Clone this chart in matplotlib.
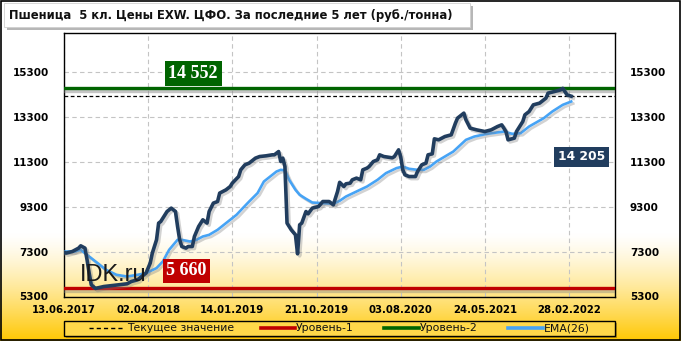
import numpy as np
import matplotlib
matplotlib.use("Agg")
import matplotlib.pyplot as plt
import matplotlib.patheffects as pe
from matplotlib.lines import Line2D
from matplotlib.patches import Rectangle, FancyBboxPatch

# ---------------- data ----------------
title = "Пшеница  5 кл. Цены EXW. ЦФО. За последние 5 лет (руб./тонна)"
tick_idx = [0, 40, 80, 120, 160, 200, 240]
tick_labels = ["13.06.2017", "02.04.2018", "14.01.2019", "21.10.2019",
               "03.08.2020", "24.05.2021", "28.02.2022"]
y_ticks = [5300, 7300, 9300, 11300, 13300, 15300]

price_idx = [0, 1, 4, 7, 8, 10, 11, 12, 13, 15, 19, 22, 26, 30, 32, 35, 39, 41, 42, 44,
             45, 46, 49, 51, 53, 54, 55, 56, 58, 59, 61, 62, 64, 66, 68, 69, 71, 73, 74, 77,
             79, 80, 83, 84, 86, 88, 91, 93, 96, 99, 100, 102, 103, 104, 105, 106, 108, 110, 111, 112,
             113, 115, 116, 118, 121, 123, 126, 128, 130, 131, 133, 134, 136, 137, 139, 141, 142, 144, 145, 147,
             149, 150, 152, 156, 157, 159, 160, 161, 162, 164, 167, 168, 170, 172, 173, 175, 176, 178, 181, 184,
             186, 187, 190, 191, 193, 196, 200, 203, 206, 208, 210, 211, 214, 215, 218, 219, 221, 223, 226, 229,
             230, 233, 236, 237, 239, 241]
price = [7270, 7229, 7300, 7451, 7553, 7451, 6931, 6340, 5820, 5660, 5744, 5776, 5820, 5864, 5967, 6042, 6340, 6784, 7229, 7820,
         8562, 8633, 9078, 9229, 9078, 8411, 7820, 7522, 7451, 7522, 7522, 7967, 8411, 8709, 8562, 9078, 9451, 9522, 9896, 10042,
         10189, 10340, 10633, 10931, 11153, 11229, 11451, 11522, 11553, 11598, 11598, 11744, 11300, 11451, 11078, 8562, 8264, 8042, 7198, 8487,
         8562, 9078, 8976, 9229, 9300, 9522, 9522, 9376, 9967, 10376, 10189, 10309, 10340, 10487, 10562, 10487, 10931, 11007, 11078, 11300,
         11376, 11598, 11522, 11464, 11522, 11820, 11507, 10931, 10709, 10633, 10633, 10856, 11153, 11229, 11598, 11642, 12309, 12264, 12411, 12487,
         13007, 13229, 13451, 13153, 12784, 12709, 12633, 12709, 12856, 12931, 12633, 12264, 12340, 12633, 13078, 13376, 13522, 13820, 13896, 14118,
         14340, 14411, 14487, 14552, 14264, 14205]

ema_idx = [0, 5, 8, 12, 16, 20, 25, 30, 35, 39, 44, 47, 50, 54, 56, 60, 63, 66, 69, 73,
           76, 79, 82, 85, 88, 92, 95, 98, 101, 103, 105, 107, 110, 112, 115, 118, 123, 128, 131, 134,
           139, 144, 149, 153, 158, 161, 164, 168, 171, 174, 177, 185, 191, 195, 201, 209, 213, 217, 221, 228,
           232, 237, 241]
ema = [7300, 7300, 7376, 7078, 6784, 6487, 6264, 6189, 6264, 6340, 6562, 6856, 7376, 7820, 7820, 7744, 7820, 7967, 8042, 8264,
       8487, 8709, 8931, 9229, 9522, 9896, 10411, 10633, 10856, 10931, 10909, 10487, 10042, 9820, 9642, 9478, 9449, 9420, 9553, 9744,
       9967, 10189, 10487, 10784, 11007, 11078, 10976, 10931, 10931, 11078, 11300, 11744, 12264, 12411, 12531, 12633, 12531, 12562, 12856, 13229,
       13522, 13820, 13967]

current_value = 14205
level_1 = 5660
level_2 = 14552
legend_labels = ["Текущее значение", "Уровень-1", "Уровень-2", "EMA(26)"]
watermark = "IDK.ru"

# ---------------- styles ----------------
W, H = 681, 341
C_MAIN = "#213d5e"
C_EMA = "#46a3f5"
C_RED = "#c00000"
C_GREEN = "#006400"
C_GRID = "#c4c4c4"

plt.rcParams['font.family'] = ['DejaVu Sans']

fig = plt.figure(figsize=(W / 100, H / 100), dpi=100)

# background gradient
bg = fig.add_axes([0, 0, 1, 1], zorder=0)
bg.set_axis_off()
ypix = np.arange(H)
t = np.clip((ypix - 232) / (H - 232), 0, 1) ** 1.35
top = np.array([1.0, 1.0, 1.0])
bot = np.array([1.0, 0.78, 0.0])
grad = top[None, :] * (1 - t[:, None]) + bot[None, :] * t[:, None]
img = np.repeat(grad[:, None, :], 4, axis=1)
bg.imshow(img, aspect='auto', extent=[0, 1, 0, 1], origin='upper')
bg.set_xlim(0, 1)
bg.set_ylim(0, 1)
bg.add_patch(Rectangle((0.0008, 0.0015), 0.998, 0.997, fill=False, ec='black', lw=1.2,
                       transform=bg.transAxes))

# main axes
L, R, T, B = 63.9, 614.7, 33.3, 296.5
ax = fig.add_axes([L / W, 1 - B / H, (R - L) / W, (B - T) / H], zorder=1)
ax.set_facecolor('none')
x_max = (R - L) / 2.105
ax.set_xlim(0, x_max)
ax.set_ylim(5300, 17000)

for s in ax.spines.values():
    s.set_color('black')
    s.set_linewidth(1.0)

ax.set_xticks(tick_idx)
ax.set_xticklabels(tick_labels, fontsize=7.3, fontweight='bold')
ax.set_yticks(y_ticks)
ax.set_yticklabels([str(v) for v in y_ticks], fontsize=7.5, fontweight='bold')
ax.tick_params(axis='both', length=0, pad=11)
ax.tick_params(axis='x', pad=6)
ax.tick_params(axis='y', right=True, labelright=True, left=False, labelleft=True)
ax.grid(True, color=C_GRID, linestyle=(0, (4, 3)), linewidth=0.8)
ax.set_axisbelow(True)

shadow = [pe.SimpleLineShadow(offset=(1.5, -1.5), shadow_color='#808080', alpha=0.35), pe.Normal()]

ax.axhline(level_1, color=C_RED, lw=2.4, path_effects=[pe.SimpleLineShadow(offset=(0, -2), shadow_color='gray', alpha=0.4), pe.Normal()], zorder=3)
ax.axhline(level_2, color=C_GREEN, lw=2.4, path_effects=[pe.SimpleLineShadow(offset=(0, -2.2), shadow_color='gray', alpha=0.45), pe.Normal()], zorder=3)
ax.axhline(current_value, color='black', lw=0.9, linestyle=(0, (3, 2)), zorder=3)

ax.plot(ema_idx, ema, color=C_EMA, lw=1.9, zorder=4, solid_joinstyle='round', path_effects=shadow)
ax.plot(price_idx, price, color=C_MAIN, lw=2.6, zorder=5, solid_joinstyle='round', path_effects=shadow)

# value boxes
ax.text(61.4, 15210, f"{level_2:,}".replace(",", " "), color='white', fontsize=13, fontweight='bold',
        family=['Liberation Serif'], ha='center', va='center', zorder=6,
        bbox=dict(boxstyle='square,pad=0.2', fc=C_GREEN, ec='none'))
ax.text(58.2, 6440, f"{level_1:,}".replace(",", " "), color='white', fontsize=13, fontweight='bold',
        family=['Liberation Serif'], ha='center', va='center', zorder=6,
        bbox=dict(boxstyle='square,pad=0.2', fc=C_RED, ec='none'))
ax.text(245.9, 11510, f"{current_value:,}".replace(",", " "), color='white', fontsize=8.8, fontweight='bold',
        ha='center', va='center', zorder=6,
        bbox=dict(boxstyle='square,pad=0.28', fc=C_MAIN, ec='none'))

# watermark
ax.text(7.5, 6270, watermark, fontsize=17, color='#1a1a1a', family=['Liberation Sans'],
        ha='left', va='center', zorder=6)

# title box
fig.patches.append(FancyBboxPatch((4 / W, 1 - 27 / H), 466 / W, 24 / H, boxstyle='square,pad=0',
                                  fc='white', ec='#d0d0d0', lw=0.6, transform=fig.transFigure,
                                  zorder=2, path_effects=[pe.withSimplePatchShadow(offset=(2, -2), shadow_rgbFace='#707070', alpha=0.5)]))
fig.text(9 / W, 1 - 15.5 / H, title, fontsize=9.3, family=['DejaVu Sans'], fontstretch='condensed',
         fontweight='bold', ha='left', va='center', zorder=3, color='#111111')

# legend
lx0, lx1, ly0, ly1 = 63.5, 614.5, 321, 335.5
fig.patches.append(Rectangle((lx0 / W, 1 - ly1 / H), (lx1 - lx0) / W, (ly1 - ly0) / H,
                             fc='#ffd84a', ec='black', lw=1.0, transform=fig.transFigure, zorder=2,
                             path_effects=[pe.withSimplePatchShadow(offset=(1.5, -1.5), shadow_rgbFace='#806000', alpha=0.5)]))
ly = 1 - 328.3 / H
items = [
    (89, 125, dict(color='black', lw=1.0, linestyle=(0, (3, 2.2))), 127, legend_labels[0]),
    (261, 295, dict(color=C_RED, lw=2.6), 295.5, legend_labels[1]),
    (384, 419, dict(color=C_GREEN, lw=2.6), 419.5, legend_labels[2]),
    (508, 543, dict(color=C_EMA, lw=2.6), 543.5, legend_labels[3]),
]
for x0, x1, st, tx, lab in items:
    fig.add_artist(Line2D([x0 / W, x1 / W], [ly, ly], transform=fig.transFigure, zorder=3, **st))
    fig.text(tx / W, ly, lab, fontsize=7.8, ha='left', va='center', zorder=3, color='#111111')

fig.savefig("out.png", dpi=100)
